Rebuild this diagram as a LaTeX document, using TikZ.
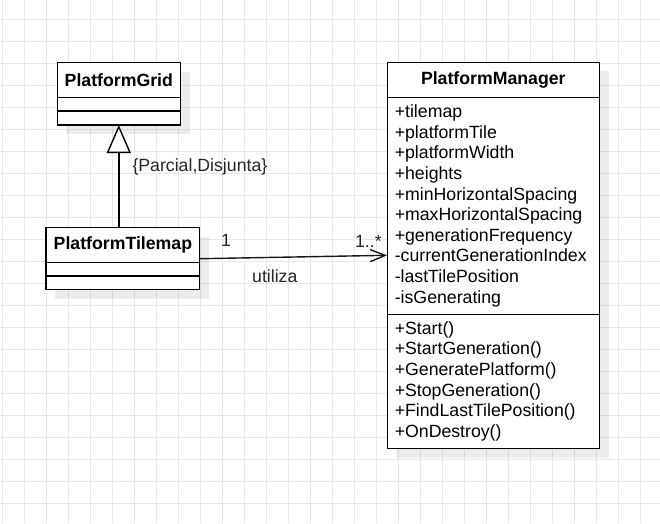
\documentclass[tikz,border=0pt]{standalone}
\usepackage{fontspec}
\setmainfont{Liberation Sans}
\usetikzlibrary{positioning,arrows.meta,backgrounds,fit}

\newcommand{\umlsize}{\fontsize{17.7}{20.6}\selectfont}

\tikzset{
  classhead/.style={draw=black, fill=white, line width=1.4pt, inner sep=0pt, outer sep=0pt, font=\umlsize\bfseries},
  classpart/.style={draw=black, fill=white, line width=1.4pt, inner sep=0pt, outer sep=0pt, font=\umlsize},
  members/.style={classpart, inner xsep=7.5pt, align=left},
  edgelabel/.style={inner sep=2pt, font=\umlsize, text=black!85},
  inherits/.style={draw=black, line width=1.4pt, -{Triangle[length=28pt,width=24pt,fill=white,line width=1.4pt]}},
  assoc/.style={draw=black!90, line width=1.4pt, -{Straight Barb[length=15pt,width=12pt,line width=1.4pt]}},
  gridline/.style={draw=black!9, line width=1pt},
  shadowbox/.style={fill=black, opacity=0.07}
}

\begin{document}
\begin{tikzpicture}[x=1pt,y=-1pt]
\useasboundingbox (0,0) rectangle (660,523);

\node[classhead, minimum width=123, minimum height=34.6] (grid) at (118.8,80) {PlatformGrid};
\node[classpart, minimum width=123, minimum height=13.7, below=0pt of grid] (gridattr) {};
\node[classpart, minimum width=123, minimum height=14, below=0pt of gridattr] (gridops) {};
\node[fit=(grid)(gridops), inner sep=0pt] (gridclass) {};

\node[classhead, minimum width=153.7, minimum height=34.6] (tilemap) at (122.9,245) {PlatformTilemap};
\node[classpart, minimum width=153.7, minimum height=13.7, below=0pt of tilemap] (tilemapattr) {};
\node[classpart, minimum width=153.7, minimum height=13.7, below=0pt of tilemapattr] (tilemapops) {};
\node[fit=(tilemap)(tilemapops), inner sep=0pt] (tilemapclass) {};

\node[classhead, minimum width=212, minimum height=35] (manager) at (493.3,79.8) {PlatformManager};
\node[members, text width=197, minimum height=217, below=0pt of manager] (managerattr) {+tilemap\\+platformTile\\+platformWidth\\+heights\\+minHorizontalSpacing\\+maxHorizontalSpacing\\+generationFrequency\\-currentGenerationIndex\\-lastTilePosition\\-isGenerating};
\node[members, text width=197, minimum height=134, below=0pt of managerattr] (managerops) {+Start()\\+StartGeneration()\\+GeneratePlatform()\\+StopGeneration()\\+FindLastTilePosition()\\+OnDestroy()};
\node[fit=(manager)(managerops), inner sep=0pt] (managerclass) {};

\draw[inherits] (tilemap.north -| gridops.south) -- node[edgelabel, pos=0.595, right=11pt] (genlabel) {\{Parcial,Disjunta\}} (gridops.south);

\draw[assoc] (tilemapclass.east) -- node[edgelabel, pos=0.14, above=9pt] (multtile) {1}
  node[edgelabel, pos=0.9, above=5pt] (multmanager) {1..*}
  node[edgelabel, pos=0.4, below=9.5pt] (uselabel) {utiliza} (managerclass.west);

\begin{scope}[on background layer]
\fill[white] (0,0) rectangle (660,523);
\foreach \gx in {2,24,...,640} \draw[gridline] (\gx,0) -- (\gx,523);
\foreach \gy in {19,41,...,503} \draw[gridline] (0,\gy) -- (660,\gy);
\fill[shadowbox] ([shift={(9,9)}]gridclass.north west) rectangle ([shift={(9,9)}]gridclass.south east);
\fill[shadowbox] ([shift={(9,9)}]tilemapclass.north west) rectangle ([shift={(9,9)}]tilemapclass.south east);
\fill[shadowbox] ([shift={(9,9)}]managerclass.north west) rectangle ([shift={(9,9)}]managerclass.south east);
\end{scope}
\end{tikzpicture}
\end{document}
